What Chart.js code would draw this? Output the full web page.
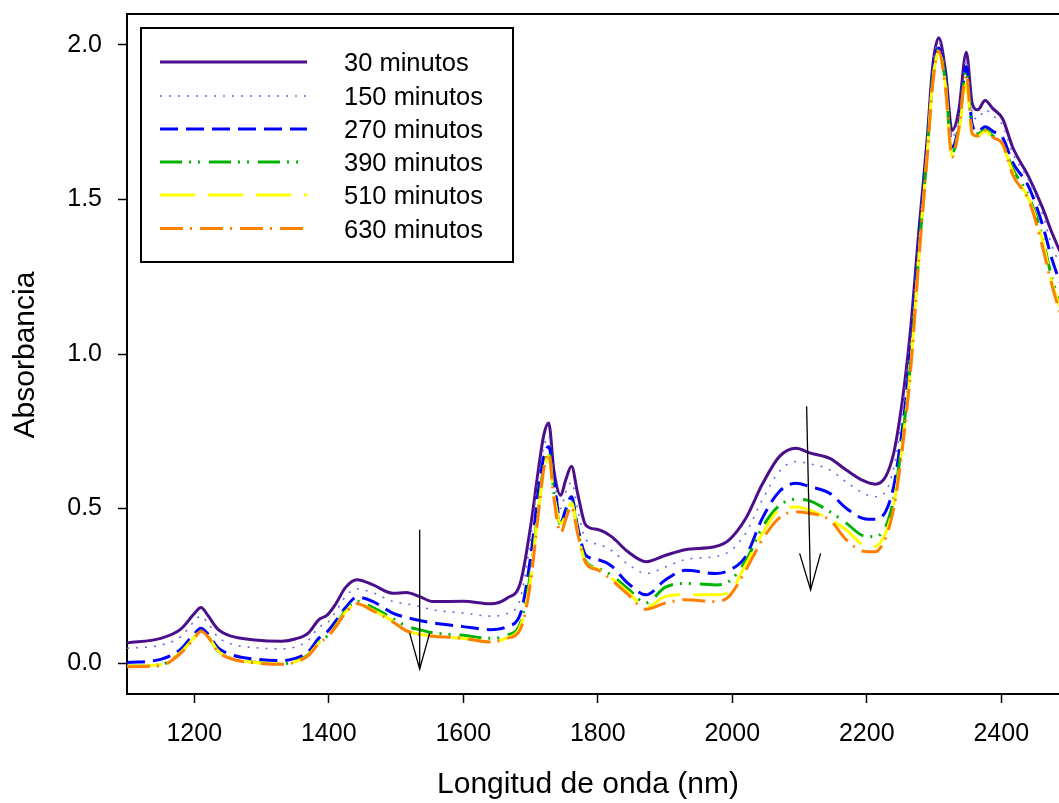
<!DOCTYPE html>
<html><head><meta charset="utf-8">
<script src="https://cdn.jsdelivr.net/npm/chart.js@4.4.1/dist/chart.umd.min.js"></script>
<style>
html,body{margin:0;padding:0;background:#fff;overflow:hidden;}
#wrap{width:1059px;height:803px;overflow:hidden;position:relative;background:#fff;}
canvas{display:block;}
</style></head><body>
<div id="wrap"><canvas id="c" width="1080" height="803"></canvas></div>
<script>
const wavelengths = [1100,1150,1180,1200,1210,1220,1235,1255,1290,1330,1350,1370,1385,1398,1410,1425,1442,1465,1495,1515,1535,1555,1600,1640,1665,1685,1700,1712,1720,1727,1735,1745,1752,1761,1770,1782,1800,1820,1845,1872,1900,1930,1975,1995,2020,2045,2070,2095,2115,2145,2170,2195,2212,2228,2240,2248,2256,2265,2278,2290,2298,2307,2317,2327,2337,2348,2357,2365,2376,2388,2402,2417,2441,2461,2476,2490,2500];

const abs30 = [0.065,0.080,0.110,0.160,0.180,0.155,0.110,0.087,0.075,0.071,0.078,0.098,0.140,0.156,0.190,0.245,0.270,0.254,0.226,0.228,0.215,0.199,0.200,0.192,0.210,0.260,0.440,0.630,0.740,0.777,0.620,0.543,0.590,0.637,0.550,0.447,0.432,0.410,0.360,0.328,0.348,0.367,0.377,0.398,0.468,0.580,0.668,0.695,0.680,0.662,0.624,0.590,0.579,0.603,0.678,0.775,0.900,1.077,1.411,1.700,1.930,2.023,1.917,1.723,1.790,1.976,1.809,1.790,1.820,1.793,1.761,1.669,1.572,1.475,1.389,1.320,1.280];

const abs150 = [0.048,0.058,0.085,0.135,0.152,0.130,0.085,0.062,0.050,0.046,0.052,0.075,0.115,0.130,0.165,0.215,0.240,0.228,0.200,0.192,0.183,0.172,0.162,0.152,0.160,0.210,0.400,0.600,0.700,0.735,0.600,0.500,0.550,0.585,0.500,0.400,0.385,0.365,0.320,0.290,0.310,0.335,0.345,0.360,0.420,0.530,0.620,0.652,0.645,0.625,0.585,0.550,0.538,0.555,0.630,0.730,0.870,1.050,1.390,1.690,1.920,2.010,1.910,1.700,1.770,1.950,1.780,1.760,1.790,1.770,1.740,1.650,1.562,1.455,1.346,1.280,1.240];

const abs270 = [0.002,0.012,0.045,0.095,0.113,0.095,0.050,0.027,0.013,0.008,0.015,0.038,0.080,0.102,0.135,0.180,0.213,0.200,0.162,0.148,0.138,0.130,0.118,0.108,0.118,0.160,0.340,0.560,0.670,0.700,0.590,0.455,0.495,0.538,0.441,0.350,0.335,0.315,0.258,0.221,0.268,0.300,0.290,0.300,0.345,0.470,0.555,0.582,0.571,0.549,0.500,0.468,0.465,0.490,0.571,0.679,0.810,1.000,1.360,1.670,1.900,1.990,1.890,1.670,1.740,1.930,1.740,1.720,1.735,1.720,1.700,1.620,1.540,1.420,1.303,1.220,1.180];

const abs390 = [-0.010,-0.005,0.035,0.085,0.105,0.088,0.040,0.016,0.003,-0.002,0.005,0.028,0.068,0.088,0.120,0.170,0.200,0.180,0.145,0.120,0.108,0.098,0.090,0.080,0.090,0.130,0.290,0.510,0.640,0.685,0.550,0.447,0.480,0.522,0.430,0.330,0.307,0.285,0.240,0.195,0.245,0.258,0.253,0.264,0.330,0.440,0.510,0.530,0.525,0.490,0.452,0.412,0.409,0.441,0.530,0.640,0.780,0.970,1.340,1.660,1.890,1.985,1.880,1.650,1.730,1.915,1.725,1.712,1.725,1.705,1.680,1.600,1.510,1.380,1.240,1.160,1.110];

const abs510 = [-0.010,-0.005,0.035,0.083,0.105,0.088,0.040,0.015,0.002,-0.003,0.004,0.026,0.065,0.086,0.118,0.165,0.194,0.172,0.136,0.105,0.094,0.088,0.080,0.070,0.082,0.120,0.270,0.500,0.620,0.670,0.540,0.452,0.475,0.517,0.425,0.325,0.304,0.275,0.230,0.180,0.215,0.221,0.221,0.228,0.318,0.420,0.495,0.505,0.495,0.465,0.430,0.382,0.377,0.420,0.510,0.620,0.760,0.950,1.330,1.650,1.880,1.975,1.870,1.640,1.720,1.874,1.712,1.705,1.720,1.700,1.675,1.590,1.500,1.370,1.225,1.140,1.090];

const abs630 = [-0.012,-0.008,0.032,0.080,0.103,0.086,0.038,0.014,0.001,-0.004,0.003,0.025,0.063,0.085,0.116,0.163,0.192,0.170,0.134,0.105,0.091,0.087,0.080,0.068,0.080,0.110,0.260,0.490,0.630,0.680,0.530,0.420,0.463,0.506,0.420,0.325,0.301,0.270,0.222,0.174,0.194,0.205,0.199,0.215,0.300,0.400,0.470,0.490,0.485,0.463,0.398,0.362,0.360,0.405,0.500,0.610,0.750,0.940,1.320,1.640,1.870,1.981,1.860,1.637,1.730,1.906,1.712,1.705,1.723,1.700,1.680,1.580,1.497,1.350,1.217,1.120,1.070];

const seriesLabels = ['30 minutos','150 minutos','270 minutos','390 minutos','510 minutos','630 minutos'];
const xTicks = [1200,1400,1600,1800,2000,2200,2400];
const yTicks = [0.0,0.5,1.0,1.5,2.0];
const xTitle = 'Longitud de onda (nm)';
const yTitle = 'Absorbancia';

// arrows (wavelength, absorbance)
const arrowTail = [[1535.2,0.431],[2110.6,0.831]];
const arrowTip = [[1535.2,-0.019],[2116.5,0.237]];
const arrowHeadL = [[1520.3,0.097],[2100.2,0.355]];
const arrowHeadR = [[1550.0,0.097],[2131.4,0.355]];

const FONT = '"Liberation Sans", Arial, Helvetica, sans-serif';
const values = [abs30, abs150, abs270, abs390, abs510, abs630];
const styles = [
  {color:'#4B0F8C', width:3, dash:[]},
  {color:'#6A6AE0', width:1.6, dash:[2,7]},
  {color:'#0000FF', width:3, dash:[18,8]},
  {color:'#00B400', width:3, dash:[22,7,2,7,2,9]},
  {color:'#FFFF00', width:3, dash:[35,13]},
  {color:'#FF8000', width:3, dash:[23,7,2,8]}
];

const datasets = values.map((arr, i) => ({
  label: seriesLabels[i],
  data: wavelengths.map((w, j) => ({x: w, y: arr[j]})),
  borderColor: styles[i].color,
  borderWidth: styles[i].width,
  borderDash: styles[i].dash,
  borderCapStyle: 'butt',
  pointRadius: 0,
  fill: false,
  cubicInterpolationMode: 'monotone',
  order: 5 - i
}));

const decorPlugin = {
  id: 'decor',
  afterDraw(chart) {
    const ctx = chart.ctx, a = chart.chartArea;
    const xs = chart.scales.x, ys = chart.scales.y;
    ctx.save();
    ctx.strokeStyle = '#000'; ctx.lineWidth = 2; ctx.setLineDash([]);
    ctx.beginPath(); ctx.moveTo(a.left - 1, a.top); ctx.lineTo(a.right + 1, a.top); ctx.stroke();
    ctx.beginPath(); ctx.moveTo(a.right, a.top); ctx.lineTo(a.right, a.bottom); ctx.stroke();
    ctx.lineWidth = 1.3;
    for (let i = 0; i < arrowTail.length; i++) {
      const t = [xs.getPixelForValue(arrowTail[i][0]), ys.getPixelForValue(arrowTail[i][1])];
      const p = [xs.getPixelForValue(arrowTip[i][0]), ys.getPixelForValue(arrowTip[i][1])];
      const l = [xs.getPixelForValue(arrowHeadL[i][0]), ys.getPixelForValue(arrowHeadL[i][1])];
      const r = [xs.getPixelForValue(arrowHeadR[i][0]), ys.getPixelForValue(arrowHeadR[i][1])];
      ctx.beginPath(); ctx.moveTo(t[0], t[1]); ctx.lineTo(p[0], p[1]); ctx.stroke();
      ctx.beginPath(); ctx.moveTo(l[0], l[1]); ctx.lineTo(p[0], p[1]); ctx.lineTo(r[0], r[1]); ctx.stroke();
    }
    ctx.lineWidth = 2; ctx.strokeStyle = '#000';
    ctx.strokeRect(141, 28, 372, 234);
    const rowsY = [62, 96, 129, 162, 195, 228.5];
    ctx.font = '25.5px ' + FONT;
    ctx.fillStyle = '#000';
    ctx.textAlign = 'left'; ctx.textBaseline = 'alphabetic';
    for (let i = 0; i < 6; i++) {
      ctx.strokeStyle = styles[i].color;
      ctx.lineWidth = styles[i].width;
      ctx.setLineDash(styles[i].dash);
      ctx.lineCap = 'butt';
      ctx.beginPath(); ctx.moveTo(160, rowsY[i]); ctx.lineTo(307, rowsY[i]); ctx.stroke();
      ctx.setLineDash([]);
      ctx.fillText(seriesLabels[i], 344, rowsY[i] + 9.3);
    }
    ctx.font = '30px ' + FONT;
    ctx.textAlign = 'center';
    ctx.fillText(xTitle, 588, 793);
    ctx.save();
    ctx.translate(34, 355);
    ctx.rotate(-Math.PI / 2);
    ctx.fillText(yTitle, 0, 0);
    ctx.restore();
    ctx.restore();
  }
};

new Chart(document.getElementById('c'), {
  type: 'line',
  data: { datasets },
  plugins: [decorPlugin],
  options: {
    responsive: false,
    animation: false,
    devicePixelRatio: 1,
    events: [],
    layout: { padding: { left: 0, right: 11.5, top: 14, bottom: 0 } },
    plugins: { legend: { display: false }, tooltip: { enabled: false }, title: { display: false } },
    scales: {
      x: {
        type: 'linear', min: 1100, max: 2500,
        afterBuildTicks: s => { s.ticks = xTicks.map(v => ({value: v})); },
        afterFit: s => { s.height = 109; s.paddingLeft = 0; s.paddingRight = 0; s.paddingTop = 0; s.paddingBottom = 0; },
        grid: { drawOnChartArea: false, drawTicks: true, tickLength: 9, tickColor: '#000', tickWidth: 1.5 },
        border: { display: true, color: '#000', width: 2 },
        ticks: { color: '#000', font: { family: FONT, size: 25 }, padding: 16, maxRotation: 0, autoSkip: false,
                 callback: v => String(v) }
      },
      y: {
        type: 'linear', min: -0.1, max: 2.1,
        afterBuildTicks: s => { s.ticks = yTicks.map(v => ({value: v})); },
        afterFit: s => { s.width = 127; s.paddingTop = 0; s.paddingBottom = 0; s.paddingLeft = 0; s.paddingRight = 0; },
        grid: { drawOnChartArea: false, drawTicks: true, tickLength: 9, tickColor: '#000', tickWidth: 1.5 },
        border: { display: true, color: '#000', width: 2 },
        ticks: { color: '#000', font: { family: FONT, size: 25 }, padding: 16, autoSkip: false,
                 callback: v => Number(v).toFixed(1) }
      }
    }
  }
});
</script>
</body></html>
